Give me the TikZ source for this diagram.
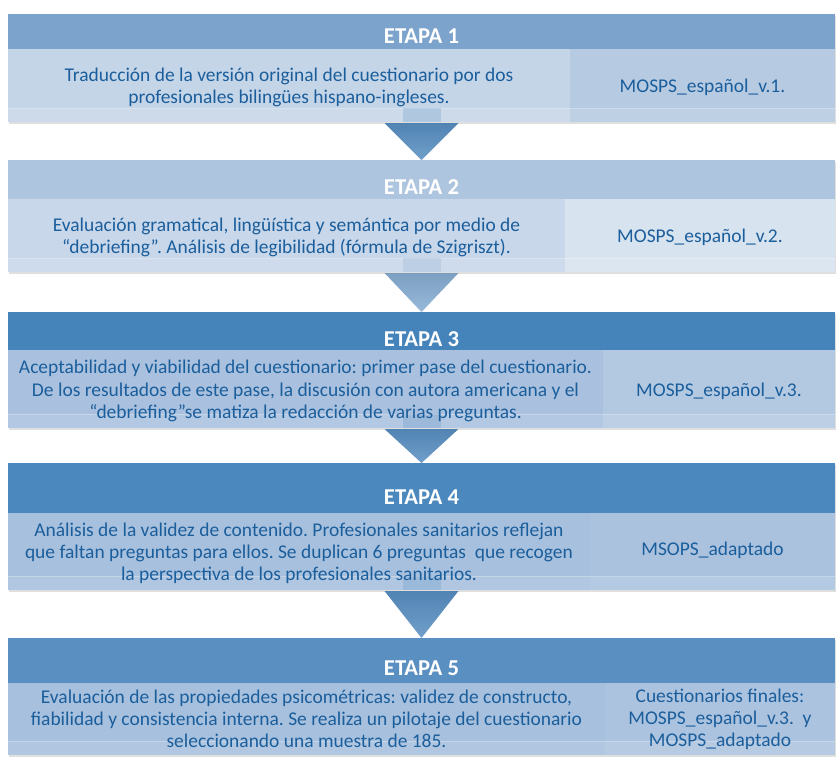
\documentclass[tikz,border=0pt]{standalone}
\usepackage{fontspec}
\setmainfont{Carlito}
\frenchspacing
\usetikzlibrary{calc,shadows}
\definecolor{txtc}{HTML}{1B5E9C}
\definecolor{H1}{HTML}{7BA3CC}
\definecolor{L1}{HTML}{C5D5E8}
\definecolor{R1}{HTML}{B6CAE1}
\definecolor{H2}{HTML}{AEC5DF}
\definecolor{L2}{HTML}{C8D7EA}
\definecolor{R2}{HTML}{D8E3F0}
\definecolor{H3}{HTML}{4584BA}
\definecolor{L3}{HTML}{A9C1DE}
\definecolor{R3}{HTML}{B3C9E2}
\definecolor{H4}{HTML}{4A88BD}
\definecolor{L4}{HTML}{A7C0DD}
\definecolor{R4}{HTML}{AAC2DE}
\definecolor{H5}{HTML}{5A8FC2}
\definecolor{L5}{HTML}{A7C0DD}
\definecolor{R5}{HTML}{ACC3DF}
\definecolor{A1}{HTML}{4E88BE}
\definecolor{A2}{HTML}{7FA8D0}
\tikzset{
  frame/.style={rectangle, inner sep=0pt, outer sep=0pt, anchor=north west, minimum width=620.25pt,
     fill=white, drop shadow={opacity=0.25, shadow xshift=0.4pt, shadow yshift=-1.8pt}},
  cell/.style={rectangle, inner sep=0pt, outer sep=0pt, anchor=north west},
  hlabel/.style={font=\fontsize{17}{20}\selectfont\bfseries, text=white, anchor=base, inner sep=0pt},
  btext/.style={font=\fontsize{14.6}{16.6}\selectfont, text=txtc, align=center, inner sep=0pt},
  strip/.style={fill=white, opacity=0.12},
  stem/.style={opacity=0.22},
}
\begin{document}
\begin{tikzpicture}[x=0.75pt,y=-0.75pt]
\useasboundingbox (0,0) rectangle (836,769);
% ---------------- boxes
\node[frame, minimum height=81pt] (s1) at (8,14) {};
\node[cell, fill=H1, minimum width=620.25pt, minimum height=26.25pt] (h1) at (8,14) {};
\node[cell, fill=L1, minimum width=421.5pt, minimum height=54.75pt] (l1) at (8,49) {};
\node[cell, fill=R1, minimum width=198.75pt, minimum height=54.75pt] (r1) at (570,49) {};

\node[frame, minimum height=84pt] (s2) at (8,160) {};
\node[cell, fill=H2, minimum width=620.25pt, minimum height=29.25pt] (h2) at (8,160) {};
\node[cell, fill=L2, minimum width=417.75pt, minimum height=54.75pt] (l2) at (8,199) {};
\node[cell, fill=R2, minimum width=202.5pt, minimum height=54.75pt] (r2) at (565,199) {};

\node[frame, minimum height=87pt] (s3) at (8,312) {};
\node[cell, fill=H3, minimum width=620.25pt, minimum height=28.5pt] (h3) at (8,312) {};
\node[cell, fill=L3, minimum width=446.25pt, minimum height=58.5pt] (l3) at (8,350) {};
\node[cell, fill=R3, minimum width=174pt, minimum height=58.5pt] (r3) at (603,350) {};

\node[frame, minimum height=95.25pt] (s4) at (8,463) {};
\node[cell, fill=H4, minimum width=620.25pt, minimum height=37.5pt] (h4) at (8,463) {};
\node[cell, fill=L4, minimum width=436.5pt, minimum height=57.75pt] (l4) at (8,513) {};
\node[cell, fill=R4, minimum width=183.75pt, minimum height=57.75pt] (r4) at (590,513) {};

\node[frame, minimum height=87.75pt] (s5) at (8,638) {};
\node[cell, fill=H5, minimum width=620.25pt, minimum height=33.75pt] (h5) at (8,638) {};
\node[cell, fill=L5, minimum width=447.75pt, minimum height=54pt] (l5) at (8,683) {};
\node[cell, fill=R5, minimum width=172.5pt, minimum height=54pt] (r5) at (605,683) {};
% ---------------- bottom strips
\foreach \i in {1,...,5}{
  \fill[strip] ($(l\i.south west)+(0,-14)$) rectangle (r\i.south east);
  \draw[white, opacity=0.25, line width=0.5pt] ($(l\i.south west)+(0,-14)$) -- ($(r\i.south east)+(0,-14)$);
}
% ---------------- arrows
\foreach \i/\j/\c in {1/2/A1,2/3/A2,3/4/A1,4/5/A1}{
  \fill[\c, stem] ($(l\i.south -| h\i.south)+(-19,-14)$) rectangle ($(l\i.south -| h\i.south)+(19,0)$);
  \shade[top color=\c!92!black, bottom color=\c!85!white, opacity=0.95]
     ($(l\i.south -| h\i.south)+(-37,1)$) -- ($(l\i.south -| h\i.south)+(37,1)$) -- (h\j.north) -- cycle;
}
% ---------------- texts
\node[hlabel] (e1) at ($(h1.south)+(0,-6)$) {ETAPA 1};
\node[btext] (t1) at ($(l1.center)+(0,2)$) {Traducción de la versión original del cuestionario por dos\\profesionales bilingües hispano-ingleses.};
\node[btext] (u1) at ($(r1.center)+(0,2)$) {MOSPS\_español\_v.1.};

\node[hlabel] (e2) at ($(h2.south)+(0,-5)$) {ETAPA 2};
\node[btext] (t2) at ($(l2.center)+(0,2)$) {Evaluación gramatical, lingüística y semántica por medio de\\“debriefing”. Análisis de legibilidad (fórmula de Szigriszt).};
\node[btext] (u2) at ($(r2.center)+(0,2)$) {MOSPS\_español\_v.2.};

\node[hlabel] (e3) at ($(h3.south)+(0,-4)$) {ETAPA 3};
\node[btext] (t3) at ($(l3.center)+(0,2)$) {Aceptabilidad y viabilidad del cuestionario: primer pase del cuestionario.\\De los resultados de este pase, la discusión con autora americana y el\\“debriefing”se matiza la redacción de varias preguntas.};
\node[btext] (u3) at ($(r3.center)+(0,2)$) {MOSPS\_español\_v.3.};

\node[hlabel] (e4) at ($(h4.south)+(0,-9)$) {ETAPA 4};
\node[btext] (t4) at ($(l4.center)+(0,2)$) {Análisis de la validez de contenido. Profesionales sanitarios reflejan\\que faltan preguntas para ellos. Se duplican 6 preguntas~ que recogen\\la perspectiva de los profesionales sanitarios.};
\node[btext] (u4) at ($(r4.center)+(0,-1)$) {MSOPS\_adaptado};

\node[hlabel] (e5) at ($(h5.south)+(0,-8)$) {ETAPA 5};
\node[btext] (t5) at ($(l5.center)+(0,0)$) {Evaluación de las propiedades psicométricas: validez de constructo,\\fiabilidad y consistencia interna. Se realiza un pilotaje del cuestionario\\seleccionando una muestra de 185.};
\node[btext] (u5) at ($(r5.center)+(0,0)$) {Cuestionarios finales:\\MOSPS\_español\_v.3.~ y\\MOSPS\_adaptado};
\end{tikzpicture}
\end{document}
